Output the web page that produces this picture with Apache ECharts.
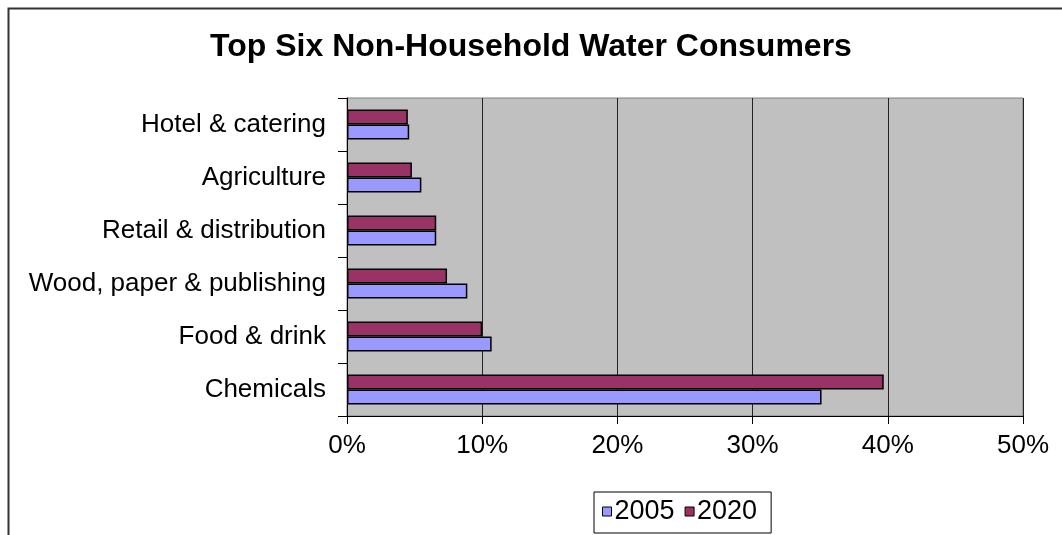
<!DOCTYPE html>
<html>
<head>
<meta charset="utf-8">
<script src="https://cdn.jsdelivr.net/npm/echarts@6/dist/echarts.min.js"></script>
<style>
html,body{margin:0;padding:0;background:#fff;}
#chart{width:1062px;height:535px;}
</style>
</head>
<body>
<div id="chart"></div>
<script>
const categories = ['Chemicals', 'Food & drink', 'Wood, paper & publishing', 'Retail & distribution', 'Agriculture', 'Hotel & catering'];
const values2005 = [35.1, 10.7, 8.9, 6.6, 5.5, 4.6];
const values2020 = [39.7, 10.0, 7.4, 6.6, 4.8, 4.5];
const seriesNames = ['2005', '2020'];
const xTicks = [0, 10, 20, 30, 40, 50];

const chart = echarts.init(document.getElementById('chart'));
const font = "'Liberation Sans', Arial, sans-serif";
chart.setOption({
  animation: false,
  backgroundColor: '#ffffff',
  title: {
    text: 'Top Six Non-Household Water Consumers',
    left: 'center',
    top: 26,
    textStyle: { fontFamily: font, fontSize: 32, fontWeight: 'bold', color: '#000' }
  },
  graphic: [{
    type: 'rect', left: 6, top: 6, shape: { width: 1100, height: 600 },
    style: { fill: 'none', stroke: '#333', lineWidth: 2 }, silent: true
  }],
  legend: {
    data: seriesNames,
    left: 594, top: 492,
    itemWidth: 9, itemHeight: 9, itemGap: 10,
    icon: 'rect',
    padding: [6, 14, 8, 8],
    borderColor: '#000', borderWidth: 1,
    textStyle: { fontFamily: font, fontSize: 27, color: '#000', padding: [0, 0, 0, -2] },
    itemStyle: { borderColor: '#000', borderWidth: 1 }
  },
  grid: { left: 347, right: 39, top: 98, bottom: 119, show: true, backgroundColor: '#c0c0c0', borderColor: '#808080', borderWidth: 1 },
  xAxis: {
    type: 'value', min: xTicks[0], max: xTicks[xTicks.length - 1], interval: 10,
    axisLine: { show: true, lineStyle: { color: '#000', width: 1 } },
    axisTick: { show: true, length: 8, lineStyle: { color: '#000' } },
    axisLabel: { fontFamily: font, fontSize: 26, color: '#000', margin: 17, formatter: v => v + '%' },
    splitLine: { show: true, lineStyle: { color: '#222', width: 1 } }
  },
  yAxis: {
    type: 'category', data: categories,
    axisLine: { show: true, lineStyle: { color: '#000', width: 1 } },
    axisTick: { show: true, length: 9, lineStyle: { color: '#000' } },
    axisLabel: { fontFamily: font, fontSize: 26, color: '#000', margin: 21 }
  },
  series: [
    { name: seriesNames[1], type: 'bar', data: values2020, barWidth: 15, barGap: '0%',
      itemStyle: { color: '#993366', borderColor: '#000', borderWidth: 1.5 } },
    { name: seriesNames[0], type: 'bar', data: values2005, barWidth: 15, barGap: '0%',
      itemStyle: { color: '#9999ff', borderColor: '#000', borderWidth: 1.5 } }
  ]
});
</script>
</body>
</html>
